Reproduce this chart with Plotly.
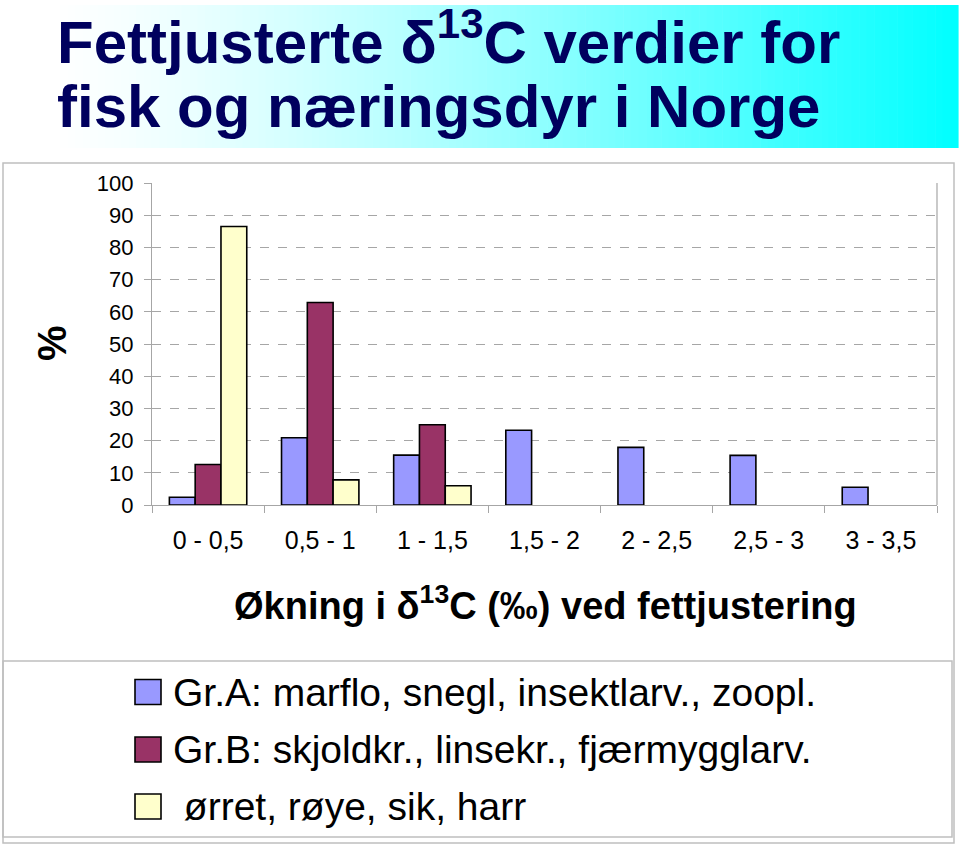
import plotly.graph_objects as go

# ---- data ----
categories = ["0 - 0,5", "0,5 - 1", "1 - 1,5", "1,5 - 2", "2 - 2,5", "2,5 - 3", "3 - 3,5"]
grA = [2.4, 20.9, 15.5, 23.2, 17.9, 15.4, 5.5]
grB = [12.6, 62.9, 24.9, None, None, None, None]
fisk = [86.5, 7.8, 6.0, None, None, None, None]
series_names = ["Gr.A: marflo, snegl, insektlarv., zoopl.",
                "Gr.B: skjoldkr., linsekr., fjærmygglarv.",
                " ørret, røye, sik, harr"]
y_ticks = [0, 10, 20, 30, 40, 50, 60, 70, 80, 90, 100]

colors = ["#9999FF", "#993366", "#FFFFCC"]
FONT = "Liberation Sans, Arial, sans-serif"

W, H = 960, 847
L, R, T, B = 152, 23, 183, 342
PW, PH = W - L - R, H - T - B


def px(x):
    return (x - L) / PW


def py(y):
    return (H - B - y) / PH


fig = go.Figure()
for vals, name, col in zip([grA, grB, fisk], series_names, colors):
    fig.add_trace(go.Bar(x=categories, y=vals, name=name,
                         marker=dict(color=col, line=dict(color="black", width=1.6)),
                         showlegend=False))

shapes = []
# title gradient band
N = 120
x0, x1 = 45, 958
for i in range(N):
    t = i / (N - 1)
    r = int(round(255 * (1 - t ** 1.35)))
    xa = x0 + (x1 - x0) * i / N
    xb = x0 + (x1 - x0) * (i + 1) / N + 0.6
    shapes.append(dict(type="rect", xref="paper", yref="paper", x0=px(xa), x1=px(xb), y0=py(148), y1=py(5),
                       fillcolor=f"rgb({r},255,255)", line=dict(width=0), layer="below"))
# outer chart frame and legend box
shapes.append(dict(type="rect", xref="paper", yref="paper", x0=px(3), x1=px(954), y0=py(843), y1=py(163),
                   line=dict(color="#BFBFBF", width=1.5)))
shapes.append(dict(type="rect", xref="paper", yref="paper", x0=px(3), x1=px(952), y0=py(837), y1=py(661),
                   line=dict(color="#BFBFBF", width=1.5)))
# right plot border
shapes.append(dict(type="line", xref="paper", yref="paper", x0=1, x1=1, y0=0, y1=1,
                   line=dict(color="#A6A6A6", width=1.2)))

annotations = []
# title
annotations.append(dict(text="<b>Fettjusterte δ<sup>13</sup>C verdier for</b>", xref="paper", yref="paper",
                        x=px(55), y=py(38), xanchor="left", yanchor="middle", showarrow=False,
                        font=dict(family=FONT, size=60, color="#00005E")))
annotations.append(dict(text="<b>fisk og næringsdyr i Norge</b>", xref="paper", yref="paper",
                        x=px(55), y=py(106), xanchor="left", yanchor="middle", showarrow=False,
                        font=dict(family=FONT, size=60, color="#00005E")))
# y title
annotations.append(dict(text="<b>%</b>", xref="paper", yref="paper", x=px(52), y=py(343), textangle=-90,
                        xanchor="center", yanchor="middle", showarrow=False,
                        font=dict(family=FONT, size=40, color="black")))
# x title
annotations.append(dict(text="<b>Økning i δ<sup>13</sup>C (‰) ved fettjustering</b>", xref="paper", yref="paper",
                        x=px(545), y=py(603), xanchor="center", yanchor="middle", showarrow=False,
                        font=dict(family=FONT, size=38, color="black")))
# legend
rows = [692, 749.5, 806.5]
for name, col, yc in zip(series_names, colors, rows):
    shapes.append(dict(type="rect", xref="paper", yref="paper", x0=px(135), x1=px(161), y0=py(yc + 12.5),
                       y1=py(yc - 12.5), fillcolor=col, line=dict(color="black", width=1.6)))
    annotations.append(dict(text=name.replace(" ", "\u00a0"), xref="paper", yref="paper", x=px(171), y=py(yc),
                            xanchor="left", yanchor="middle", showarrow=False,
                            font=dict(family=FONT, size=39, color="black")))

fig.update_layout(
    width=W, height=H,
    margin=dict(l=L, r=R, t=T, b=B, pad=0),
    paper_bgcolor="white", plot_bgcolor="white",
    barmode="group", bargap=0.31, bargroupgap=0,
    font=dict(family=FONT, color="black"),
    shapes=shapes, annotations=annotations,
)
fig.update_xaxes(type="category", tickson="boundaries", ticks="outside", ticklen=7, tickcolor="#A6A6A6",
                 showline=True, linecolor="#A6A6A6", linewidth=1.2, showgrid=False,
                 tickfont=dict(family=FONT, size=25, color="black"), ticklabelstandoff=13)
fig.update_yaxes(range=[0, 100], tickvals=y_ticks, ticks="outside", ticklen=7, tickcolor="#A6A6A6",
                 showline=True, linecolor="#A6A6A6", linewidth=1.2, showgrid=True,
                 gridcolor="#A6A6A6", griddash="dash", gridwidth=1, zeroline=False,
                 tickfont=dict(family=FONT, size=22, color="black"), ticklabelstandoff=6)

fig.write_html("out.html", config={"displayModeBar": False},
               post_script="document.body.style.margin='0';")
